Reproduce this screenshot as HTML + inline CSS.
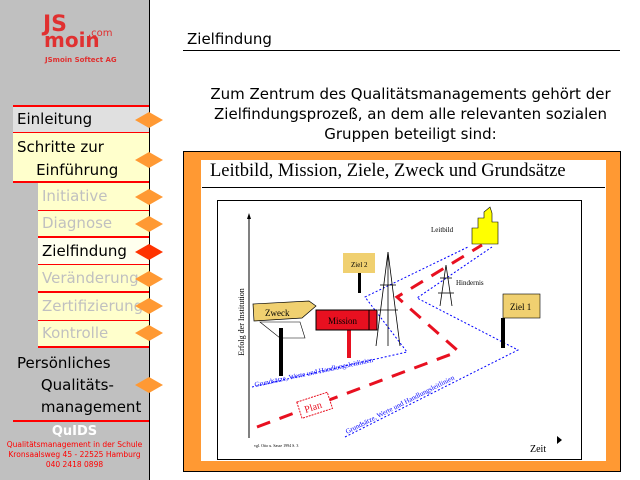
<!DOCTYPE html>
<html><head><style>
body{margin:0;width:640px;height:480px;overflow:hidden;background:#fff;font-family:"DejaVu Sans","Liberation Sans",sans-serif;position:relative}
.a{position:absolute}
.side{left:0;top:0;width:149px;height:480px;background:#c0c0c0;border-right:1px solid #000}
.it{position:absolute;font-size:15px;color:#000;box-sizing:border-box;border-bottom:1px solid #f00}
</style></head><body>
<div class="a side"></div>
<div class="a" style="left:43px;top:14px;color:#e03030;font-weight:bold;font-size:22px;line-height:22px">JS</div>
<div class="a" style="left:44px;top:30px;color:#e03030;font-weight:bold;font-size:20px;line-height:20px">moin</div>
<div class="a" style="left:88px;top:28px;color:#e03030;font-size:10px">.com</div>
<div class="a" style="left:45px;top:56px;color:#e03030;font-size:7px;font-weight:bold">JSmoin Softect AG</div>

<div class="it" style="left:13px;top:105px;width:136px;height:28px;background:#e0e0e0;border-top:2px solid #f00;padding:3px 0 0 4px">Einleitung</div>
<div class="it" style="left:13px;top:133px;width:136px;height:50px;background:#ffffcc;border-bottom:2px solid #f00;padding:3px 0 0 4px;line-height:23px">Schritte zur<br>&nbsp;&nbsp;&nbsp;&nbsp;Einführung</div>
<div class="it" style="left:38px;top:183px;width:111px;height:28px;background:#ffffcc;color:#c0c0c0;padding:4px 0 0 4px">Initiative</div>
<div class="it" style="left:38px;top:211px;width:111px;height:27px;background:#ffffcc;color:#c0c0c0;padding:3px 0 0 4px;border-bottom:2px solid #f00">Diagnose</div>
<div class="it" style="left:38px;top:238px;width:111px;height:27px;background:#ffffee;padding:4px 0 0 4px">Zielfindung</div>
<div class="it" style="left:38px;top:265px;width:111px;height:28px;background:#ffffcc;color:#c0c0c0;padding:4px 0 0 4px;border-bottom:2px solid #f00">Veränderung</div>
<div class="it" style="left:38px;top:293px;width:111px;height:28px;background:#ffffcc;color:#c0c0c0;padding:4px 0 0 4px">Zertifizierung</div>
<div class="it" style="left:38px;top:321px;width:111px;height:27px;background:#ffffcc;color:#c0c0c0;padding:3px 0 0 4px;border-bottom:2px solid #f00">Kontrolle</div>
<div class="a" style="left:17px;top:352px;font-size:15px;line-height:22px">Persönliches<br>&nbsp;&nbsp;&nbsp;&nbsp;&nbsp;Qualitäts-<br>&nbsp;&nbsp;&nbsp;&nbsp;&nbsp;management</div>
<div class="a" style="left:13px;top:420px;width:136px;height:2px;background:#f00"></div>
<div class="a" style="left:0;top:424px;width:149px;text-align:center;color:#fff;font-weight:bold;font-size:13px">QuIDS</div>
<div class="a" style="left:0;top:440px;width:149px;text-align:center;color:#f00;font-size:7.5px;line-height:10px">Qualitätsmanagement in der Schule<br>Kronsaalsweg 45 - 22525 Hamburg<br>040 2418 0898</div>

<svg class="a" style="left:0;top:0" width="170" height="480">
<g fill="#ff9933">
<polygon points="135,120 149,112 163,120 149,128"/>
<polygon points="135,160 149,152 163,160 149,168"/>
<polygon points="135,197 149,189 163,197 149,205"/>
<polygon points="135,224 149,216 163,224 149,232"/>
<polygon points="135,279 149,271 163,279 149,287"/>
<polygon points="135,306 149,298 163,306 149,314"/>
<polygon points="135,333 149,325 163,333 149,341"/>
<polygon points="135,385 149,377 163,385 149,393"/>
</g>
<polygon points="135,252 149,244 163,252 149,260" fill="#ff3300"/>
</svg>

<div class="a" style="left:187px;top:30px;font-size:15px">Zielfindung</div>
<div class="a" style="left:183px;top:50px;width:437px;height:1px;background:#000"></div>
<div class="a" style="left:183px;top:84px;width:455px;text-align:center;font-size:15px;line-height:20px">Zum Zentrum des Qualitätsmanagements gehört der<br>Zielfindungsprozeß, an dem alle relevanten sozialen<br>Gruppen beteiligt sind:</div>

<div class="a" style="left:183px;top:151px;width:436px;height:319px;background:#ff9933;border:1px solid #000"></div>
<div class="a" style="left:201px;top:160px;width:405px;height:301px;background:#fff"></div>
<div class="a" style="left:210px;top:161px;font-family:'Liberation Serif',serif;font-size:18.5px">Leitbild, Mission, Ziele, Zweck und Grundsätze</div>
<div class="a" style="left:202px;top:187px;width:403px;height:1px;background:#000"></div>
<div class="a" style="left:217px;top:200px;width:363px;height:258px;border:1px solid #000"></div>

<svg class="a" style="left:0;top:0" width="640" height="480" font-family="Liberation Serif,serif">
<line x1="249" y1="216" x2="249" y2="438" stroke="#000"/>
<polygon points="247,219 249,213 251,219"/>
<polygon points="557,436 557,444 562,440"/>
<text x="244" y="322" font-size="8" transform="rotate(-90 244 322)" text-anchor="middle">Erfolg der Institution</text>
<text x="530" y="452" font-size="10">Zeit</text>
<text x="254" y="447" font-size="4">vgl. Otto u. Sasse 1994 S. 3</text>
<polyline points="257,427 457,352 457,350 397,297 482,245" fill="none" stroke="#e81020" stroke-width="3" stroke-dasharray="14,10"/>
<polyline points="252,387 407,352 365,297 468,247" fill="none" stroke="#00f" stroke-width="1" stroke-dasharray="2,2"/>
<polyline points="345,437 518,350 417,298 492,247" fill="none" stroke="#00f" stroke-width="1" stroke-dasharray="2,2"/>
<text x="255" y="387" font-size="7" fill="#00f" transform="rotate(-12 255 387)">Grundsätze, Werte und Handlungsleitlinien</text>
<text x="347" y="434" font-size="7" fill="#00f" transform="rotate(-27 347 434)">Grundsätze, Werte und Handlungsleitlinien</text>
<g transform="rotate(-18 311 407)"><rect x="299" y="398" width="32" height="17" fill="#fff" stroke="#e81020" stroke-dasharray="2,1"/><text x="304" y="411" font-size="10" fill="#e81020">Plan</text></g>
<polygon points="260,322 300,322 305,338 280,338" fill="#fff" stroke="#000" stroke-width="0.6"/>
<rect x="279" y="328" width="4" height="48"/>
<polygon points="253,304 309,301 316,306 302,318 254,321" fill="#f0d070" stroke="#000" stroke-width="0.7"/>
<text x="265" y="316" font-size="9">Zweck</text>
<rect x="347" y="330" width="4" height="28" fill="#e81020"/>
<rect x="316" y="310" width="61" height="20" fill="#e81020" stroke="#000"/>
<line x1="369" y1="310" x2="369" y2="330" stroke="#000"/>
<text x="328" y="324" font-size="9">Mission</text>
<rect x="358" y="273" width="3" height="20"/>
<rect x="343" y="253" width="32" height="20" fill="#f0d070"/>
<text x="351" y="267" font-size="7">Ziel 2</text>
<rect x="501" y="318" width="4" height="30"/>
<rect x="503" y="294" width="37" height="24" fill="#f0d070" stroke="#000" stroke-width="0.6"/>
<text x="510" y="310" font-size="9">Ziel 1</text>
<g stroke="#000" stroke-width="0.8" fill="none">
<polyline points="376,346 388,252 400,346"/><line x1="388" y1="252" x2="388" y2="346"/>
<line x1="380" y1="285" x2="396" y2="285"/><line x1="378" y1="310" x2="398" y2="310"/>
<polyline points="440,306 446,265 452,306"/><line x1="440" y1="278" x2="452" y2="278"/><line x1="438" y1="293" x2="454" y2="293"/>
</g>
<text x="456" y="285" font-size="7">Hindernis</text>
<text x="431" y="232" font-size="7">Leitbild</text>
<polygon points="472,244 472,228 478,228 478,218 484,218 484,212 490,207 492,213 492,222 498,222 498,244" fill="#ff0" stroke="#000" stroke-width="0.6"/>
</svg>
</body></html>
